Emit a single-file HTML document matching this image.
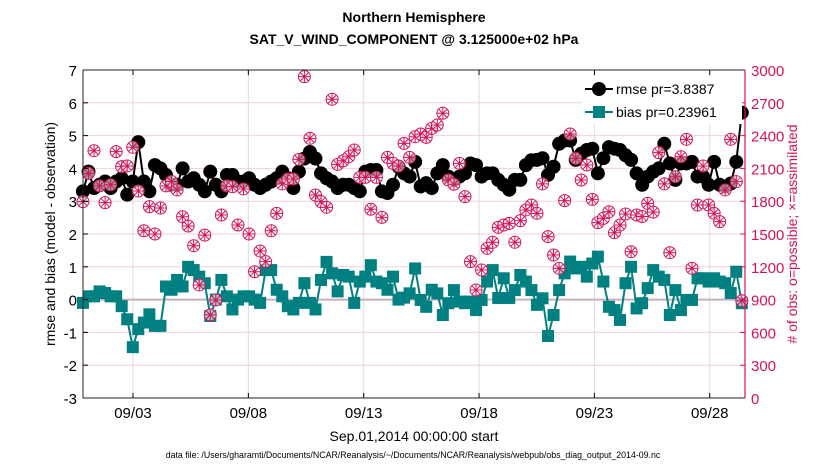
<!DOCTYPE html>
<html><head><meta charset="utf-8"><style>
body{margin:0;background:#fff;font-family:"Liberation Sans",sans-serif}
</style></head><body>
<svg id="chart" width="830" height="470" xmlns="http://www.w3.org/2000/svg" font-family="Liberation Sans, sans-serif">
<text x="414" y="22" text-anchor="middle" font-size="14" font-weight="bold">Northern Hemisphere</text>
<text x="414" y="44" text-anchor="middle" font-size="14" font-weight="bold">SAT_V_WIND_COMPONENT @ 3.125000e+02 hPa</text>
<g id="grid"></g><g id="series"></g><g id="axes"></g>
<text x="414" y="441" text-anchor="middle" font-size="14">Sep.01,2014 00:00:00 start</text>
<text x="413" y="458" text-anchor="middle" font-size="8.8">data file: /Users/gharamti/Documents/NCAR/Reanalysis/~/Documents/NCAR/Reanalysis/webpub/obs_diag_output_2014-09.nc</text>
<text transform="translate(55,234) rotate(-90)" text-anchor="middle" font-size="14">rmse and bias (model - observation)</text>
<text transform="translate(797,234) rotate(-90)" text-anchor="middle" font-size="14" fill="#d4145a"># of obs: o=possible; ×=assimilated</text>
<g>
<rect x="582" y="76" width="160" height="48" fill="#fff"/>
<line x1="585" y1="89" x2="613" y2="89" stroke="#000" stroke-width="2"/><circle cx="599" cy="89" r="7" fill="#000"/>
<text x="616" y="94" font-size="14">rmse pr=3.8387</text>
<line x1="585" y1="112" x2="613" y2="112" stroke="#008080" stroke-width="2"/><rect x="593" y="106" width="12" height="12" fill="#008080"/>
<text x="616" y="117" font-size="14">bias pr=0.23961</text>
</g>
</svg>
<script>
const rmse=[3.3,3.9,3.4,3.5,3.6,3.4,3.6,3.7,3.2,3.6,4.8,3.6,3.3,4.1,4.0,3.8,3.5,3.5,4.0,3.6,3.7,3.5,3.3,3.9,3.5,3.3,3.8,3.8,3.6,3.6,3.7,3.5,3.4,3.5,3.6,3.7,3.9,3.7,3.4,3.9,4.3,
4.5,4.3,3.85,3.7,3.6,3.4,3.5,3.5,3.4,3.3,3.9,3.95,3.95,3.3,3.25,3.5,4.05,3.85,3.75,4.2,3.45,3.55,3.4,3.85,4.1,3.75,3.65,3.75,3.85,4.15,4.1,3.75,3.85,3.85,3.65,3.5,3.35,3.65,3.65,
4.1,4.25,4.26,4.31,3.8,4.05,4.75,4.85,4.85,4.26,4.45,4.56,4.6,3.85,4.31,4.65,4.6,4.56,4.4,4.26,3.85,3.5,3.75,3.9,4.0,4.75,4.15,3.65,4.15,4.15,4.2,3.75,3.75,3.5,4.2,3.5,3.44,3.54,4.2,5.7];
const bias=[-0.1,0.1,0.1,0.25,0.2,0.1,0.1,-0.2,-0.6,-1.45,-0.9,-0.7,-0.45,-0.8,-0.8,0.4,0.3,0.6,0.4,1.0,0.9,0.7,0.5,-0.5,0.0,0.6,0.1,-0.3,0.0,0.1,0.1,0.0,-0.1,0.9,0.9,0.3,0.1,-0.2,-0.3,-0.1,0.5,
-0.1,-0.3,0.6,1.15,0.8,0.25,0.75,0.7,-0.1,0.55,0.7,1.05,0.55,0.5,0.3,0.7,0.0,0.06,0.19,0.95,-0.01,-0.22,0.3,0.19,-0.47,-0.11,0.29,-0.06,-0.11,-0.06,-0.32,-0.01,0.55,0.9,0.05,0.65,0.05,0.29,0.75,
0.55,0.29,-0.16,0.04,-1.11,-0.47,0.29,0.8,1.16,0.95,1.0,0.7,1.1,1.31,0.55,-0.22,-0.32,-0.62,0.5,1.0,-0.27,-0.11,0.35,0.9,0.7,0.6,-0.47,0.29,-0.32,-0.01,-0.01,0.65,0.65,0.55,0.65,0.55,0.5,0.2,0.85,-0.11];
const counts=[1796,2055,2262,1940,1787,1950,2253,2116,2122,2293,1893,1530,1750,1500,1738,1940,1980,1903,1658,1573,1393,1034,1490,760,896,1674,1940,1933,1582,1912,1500,1155,1344,1247,1530,1689,1958,2003,2003,2183,2939,
2375,1857,1796,1744,2732,2137,2170,2207,2268,2018,2018,1726,2018,1652,2201,2146,2122,2329,2201,2390,2415,2384,2466,2497,2604,1994,1955,2146,1842,1247,988,1171,1369,1424,1561,1582,1597,1424,1622,
1720,1765,1689,1958,1476,1308,1186,1805,2415,2192,1994,2131,1817,1604,1643,1704,1512,1582,1683,1338,1674,1660,1780,1700,2244,1958,1329,2024,2207,2366,1186,1765,2122,1765,1689,1613,1903,2366,1979,890];
const leftTicks=[-3,-2,-1,0,1,2,3,4,5,6,7];
const rightTicks=[0,300,600,900,1200,1500,1800,2100,2400,2700,3000];
const dateTicks=["09/03","09/08","09/13","09/18","09/23","09/28"];
const dateTickDays=[2,7,12,17,22,27];
const startDay=-0.17, stepDay=0.24;

const L=83,R=745,T=70,B=398;
const xDay=d=>133+(d-2)*23.07;
const xIdx=i=>xDay(startDay+i*stepDay);
const yL=v=>T+(7-v)*(B-T)/10;
const yR=c=>B-c*(B-T)/3000;
const NS="http://www.w3.org/2000/svg";
function mk(parent,tag,attrs){const e=document.createElementNS(NS,tag);for(const k in attrs)e.setAttribute(k,attrs[k]);parent.appendChild(e);return e;}
const grid=document.getElementById('grid'),ser=document.getElementById('series'),ax=document.getElementById('axes');

leftTicks.forEach(v=>{const g=mk(grid,'line',{x1:L,x2:R,y1:yL(v),y2:yL(v),stroke:'#f3cfe0','stroke-width':1});


const t=mk(ax,'text',{x:L-6,y:yL(v)+6,'text-anchor':'end','font-size':15});t.textContent=v;


mk(ax,'line',{x1:L,x2:L+5,y1:yL(v),y2:yL(v),stroke:'#000'});});
rightTicks.forEach(c=>{const t=mk(ax,'text',{x:R+6,y:yR(c)+6,'font-size':15,fill:'#d4145a'});t.textContent=c;


mk(ax,'line',{x1:R-5,x2:R,y1:yR(c),y2:yR(c),stroke:'#d4145a'});});
dateTicks.forEach((lab,k)=>{const x=xDay(dateTickDays[k]);
const g=mk(grid,'line',{x1:x,x2:x,y1:T,y2:B,stroke:'#dcdcdc'});


mk(ax,'line',{x1:x,x2:x,y1:B,y2:B-5,stroke:'#000'});mk(ax,'line',{x1:x,x2:x,y1:T,y2:T+5,stroke:'#000'});
const t=mk(ax,'text',{x:x,y:B+20,'text-anchor':'middle','font-size':15});t.textContent=lab;

});
const z=mk(grid,'line',{x1:L,x2:R,y1:yL(0),y2:yL(0),stroke:'#c8b0bb','stroke-width':2});


mk(ax,'path',{d:`M${R} ${T}H${L}V${B}H${R}`,fill:'none',stroke:'#222','stroke-width':1});
mk(ax,'line',{x1:R,x2:R,y1:T,y2:B,stroke:'#d4145a','stroke-width':1.2});

const rl=mk(ser,'polyline',{points:rmse.map((v,i)=>xIdx(i)+','+yL(v)).join(' '),fill:'none',stroke:'#000','stroke-width':2});


rmse.forEach((v,i)=>{const c=mk(ser,'circle',{cx:xIdx(i),cy:yL(v),r:7,fill:'#000'});

});
const bl=mk(ser,'polyline',{points:bias.map((v,i)=>xIdx(i)+','+yL(v)).join(' '),fill:'none',stroke:'#008080','stroke-width':2});


bias.forEach((v,i)=>{const c=mk(ser,'rect',{x:xIdx(i)-6,y:yL(v)-6,width:12,height:12,fill:'#008080'});

});
counts.forEach((v,i)=>{const x=xIdx(i),y=yR(v);
const g=mk(ser,'g',{stroke:'#d4145a','stroke-width':1});


mk(g,'circle',{cx:x,cy:y,r:6,fill:'#fff','fill-opacity':0.6});
mk(g,'path',{d:`M${x-6} ${y}H${x+6}M${x} ${y-6}V${y+6}M${x-4.2} ${y-4.2}L${x+4.2} ${y+4.2}M${x-4.2} ${y+4.2}L${x+4.2} ${y-4.2}`});});
</script>
</body></html>
